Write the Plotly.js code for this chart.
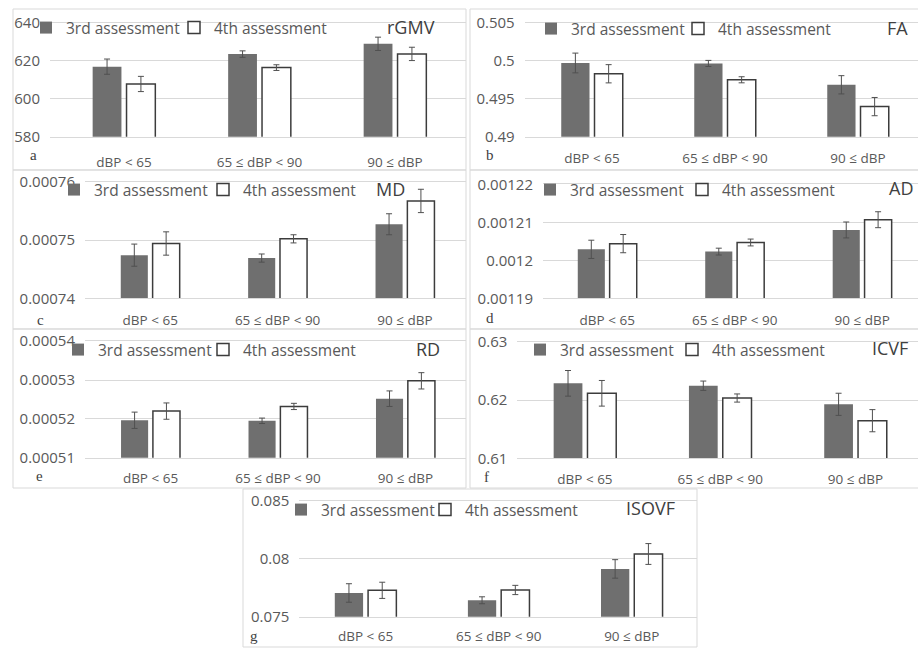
<!DOCTYPE html>
<html>
<head>
<meta charset="utf-8">
<script src="https://cdn.plot.ly/plotly-3.0.1.min.js"></script>
<style>html,body{margin:0;padding:0;background:#fff;}#chart{width:918px;height:649px;}</style>
</head>
<body>
<div id="chart"></div>
<script>
// ---------- data ----------
const categories = ["dBP < 65", "65 \u2264 dBP < 90", "90 \u2264 dBP"];
const seriesNames = ["3rd assessment", "4th assessment"];

const rGMV3 = [616.8, 623.4, 628.8];
const rGMV3err = [4.0, 1.7, 3.5];
const rGMV4 = [607.7, 616.3, 623.5];
const rGMV4err = [4.0, 1.5, 3.5];

const FA3 = [0.4997, 0.49964, 0.49683];
const FA3err = [0.0013, 0.0004, 0.0012];
const FA4 = [0.49828, 0.49749, 0.49396];
const FA4err = [0.0012, 0.0004, 0.0012];

const MD3 = [0.0007474, 0.0007469, 0.0007527];
const MD3err = [0.0000019, 0.0000007, 0.0000018];
const MD4 = [0.0007494, 0.0007502, 0.0007567];
const MD4err = [0.0000020, 0.0000007, 0.0000020];

const AD3 = [0.0012029, 0.0012023, 0.0012080];
const AD3err = [0.0000024, 0.0000009, 0.0000021];
const AD4 = [0.0012044, 0.0012047, 0.0012107];
const AD4err = [0.0000024, 0.0000009, 0.0000021];

const RD3 = [0.00051964, 0.0005195, 0.0005252];
const RD3err = [0.0000021, 0.0000007, 0.0000020];
const RD4 = [0.0005220, 0.0005232, 0.0005298];
const RD4err = [0.0000021, 0.0000008, 0.0000021];

const ICVF3 = [0.62286, 0.62245, 0.61926];
const ICVF3err = [0.0022, 0.0008, 0.0019];
const ICVF4 = [0.62115, 0.62034, 0.61645];
const ICVF4err = [0.0022, 0.0007, 0.0019];

const ISOVF3 = [0.07705, 0.07642, 0.07913];
const ISOVF3err = [0.0008, 0.0003, 0.0008];
const ISOVF4 = [0.07728, 0.07731, 0.08042];
const ISOVF4err = [0.0007, 0.0004, 0.0009];

const panelTitles = ["rGMV", "FA", "MD", "AD", "RD", "ICVF", "ISOVF"];
const panelLetters = ["a", "b", "c", "d", "e", "f", "g"];
const yRanges = [[580, 640], [0.49, 0.505], [0.00074, 0.00076], [0.00119, 0.00122],
                 [0.00051, 0.00054], [0.61, 0.63], [0.075, 0.085]];
const yDticks = [20, 0.005, 0.00001, 0.00001, 0.00001, 0.01, 0.005];

const values3 = [rGMV3, FA3, MD3, AD3, RD3, ICVF3, ISOVF3];
const errors3 = [rGMV3err, FA3err, MD3err, AD3err, RD3err, ICVF3err, ISOVF3err];
const values4 = [rGMV4, FA4, MD4, AD4, RD4, ICVF4, ISOVF4];
const errors4 = [rGMV4err, FA4err, MD4err, AD4err, RD4err, ICVF4err, ISOVF4err];

// ---------- layout geometry (pixels in a 918x649 page) ----------
const W = 918, H = 649;
const geo = [
  {l: 50,    r: 466, t: 22.5,  b: 136.7, xr: [-0.546, 2.524], box: [13, 466, 9, 170],   leg: [26, 174, 28],  title: [437, 27],  letter: [33, 155], xs: 13},
  {l: 524.7, r: 918, t: 22.7,  b: 136.7, xr: [-0.506, 2.451], box: [470, 925, 9, 170],  leg: [531, 678, 29], title: [910, 28],  letter: [490, 155], xs: 9},
  {l: 85,    r: 466, t: 181.7, b: 298.3, xr: [-0.512, 2.479], box: [13, 466, 170, 329], leg: [54, 203, 190], title: [407, 189], letter: [40, 320], xs: 9},
  {l: 543,   r: 918, t: 184.4, b: 298.3, xr: [-0.504, 2.438], box: [470, 925, 170, 329], leg: [530, 682, 190], title: [915, 188], letter: [490, 318], xs: 9},
  {l: 85,    r: 466, t: 341.2, b: 457.7, xr: [-0.514, 2.475], box: [13, 466, 329, 488], leg: [58, 203, 350], title: [442, 349], letter: [39, 476], xs: 8},
  {l: 517.3, r: 918, t: 341.7, b: 458.3, xr: [-0.500, 2.462], box: [470, 925, 329, 488], leg: [520, 672, 350], title: [910, 348], letter: [487, 477], xs: 8},
  {l: 299.3, r: 697, t: 501,   b: 616.7, xr: [-0.498, 2.490], box: [243, 697, 489, 647], leg: [281, 425, 510], title: [677, 508], letter: [254, 636], xs: 7}
];

const px = x => x / W;
const py = y => 1 - y / H;

const FONT = "Open Sans, Lato, sans-serif";
const data = [];
const layout = {
  width: W, height: H,
  margin: {l: 0, r: 0, t: 0, b: 0},
  paper_bgcolor: "#ffffff",
  plot_bgcolor: "rgba(0,0,0,0)",
  barmode: "group",
  bargap: 0.5,
  bargroupgap: 0.15,
  showlegend: true,
  annotations: [],
  shapes: []
};

function legendAt(xPix, yPix) {
  return {
    orientation: "h",
    x: px(xPix), y: py(yPix),
    xanchor: "left", yanchor: "middle",
    xref: "paper", yref: "paper",
    bgcolor: "rgba(0,0,0,0)",
    borderwidth: 0,
    font: {family: FONT, size: 15.5, color: "#595959"},
    itemwidth: 30
  };
}

geo.forEach((g, i) => {
  const n = i + 1;
  const xa = n === 1 ? "x" : "x" + n;
  const ya = n === 1 ? "y" : "y" + n;
  const legA = n === 1 ? "legend" : "legend" + (2 * n - 1);
  const legB = "legend" + (2 * n);

  data.push({
    type: "bar", name: seriesNames[0], x: categories, y: values3[i],
    xaxis: xa, yaxis: ya, legend: legA,
    marker: {color: "#6f6f6f", line: {width: 0}},
    error_y: {type: "data", array: errors3[i], visible: true, color: "#505050", thickness: 1, width: 3},
    hoverinfo: "y"
  });
  data.push({
    type: "bar", name: seriesNames[1], x: categories, y: values4[i],
    xaxis: xa, yaxis: ya, legend: legB,
    marker: {color: "#ffffff", line: {width: 1.5, color: "#3c3c3c"}},
    error_y: {type: "data", array: errors4[i], visible: true, color: "#505050", thickness: 1, width: 3},
    hoverinfo: "y"
  });

  const xKey = n === 1 ? "xaxis" : "xaxis" + n;
  const yKey = n === 1 ? "yaxis" : "yaxis" + n;
  layout[xKey] = {
    domain: [px(g.l), px(g.r)],
    anchor: ya,
    type: "category",
    range: g.xr,
    showgrid: false,
    zeroline: false,
    showline: true, mirror: true, linecolor: "#d9d9d9", linewidth: 1,
    ticks: "",
    ticklabelstandoff: g.xs,
    tickfont: {family: FONT, size: 13.5, color: "#595959"},
    fixedrange: true
  };
  layout[yKey] = {
    domain: [py(g.b), py(g.t)],
    anchor: xa,
    range: yRanges[i],
    dtick: yDticks[i],
    tick0: yRanges[i][0],
    exponentformat: "none",
    showgrid: true, gridcolor: "#d9d9d9", gridwidth: 1,
    zeroline: false, showline: false,
    ticks: "",
    ticklabelstandoff: 9,
    tickfont: {family: FONT, size: 15, color: "#595959"},
    fixedrange: true
  };
  layout[legA] = legendAt(g.leg[0], g.leg[2]);
  layout[legB] = legendAt(g.leg[1], g.leg[2]);

  layout.annotations.push({
    xref: "paper", yref: "paper",
    x: px(g.title[0]), y: py(g.title[1]),
    xanchor: "right", yanchor: "middle",
    text: panelTitles[i], showarrow: false,
    font: {family: FONT, size: 18, color: "#404040"}
  });
  layout.annotations.push({
    xref: "paper", yref: "paper",
    x: px(g.letter[0]), y: py(g.letter[1]),
    xanchor: "center", yanchor: "middle",
    text: panelLetters[i], showarrow: false,
    font: {family: "Liberation Serif, serif", size: 15, color: "#404040"}
  });
  layout.shapes.push({
    type: "rect", xref: "paper", yref: "paper",
    x0: px(g.box[0]), x1: px(g.box[1]), y0: py(g.box[3]), y1: py(g.box[2]),
    line: {color: "#d9d9d9", width: 1}, fillcolor: "rgba(0,0,0,0)", layer: "below"
  });
});

Plotly.newPlot("chart", data, layout, {displayModeBar: false, staticPlot: true});
</script>
</body>
</html>
